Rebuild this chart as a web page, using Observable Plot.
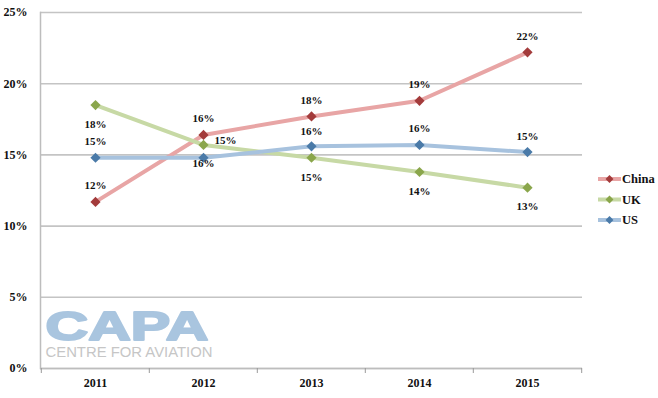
<!DOCTYPE html>
<html>
<head>
<meta charset="utf-8">
<script src="https://cdn.jsdelivr.net/npm/d3@7"></script>
<script src="https://cdn.jsdelivr.net/npm/@observablehq/plot@0.6"></script>
<style>
  html, body { margin: 0; padding: 0; background: #fff; }
  #wrap { position: relative; width: 658px; height: 398px; }
</style>
</head>
<body>
<div id="wrap"></div>
<script>
const years = ["2011", "2012", "2013", "2014", "2015"];
const seriesNames = ["China", "UK", "US"];
const chinaValues = [0.117, 0.164, 0.177, 0.188, 0.222];
const ukValues = [0.185, 0.157, 0.148, 0.138, 0.127];
const usValues = [0.148, 0.148, 0.156, 0.157, 0.152];
const chinaLabels = ["12%", "16%", "18%", "19%", "22%"];
const ukLabels = ["18%", "15%", "15%", "14%", "13%"];
const usLabels = ["15%", "16%", "16%", "16%", "15%"];
const yTicks = [0, 0.05, 0.10, 0.15, 0.20, 0.25];

const lineColors = {China: "#e8a5a5", UK: "#c7d9a5", US: "#a7c2de"};
const markColors = {China: "#a33b3b", UK: "#8aa64b", US: "#4a7aa8"};

const valuesBy = {China: chinaValues, UK: ukValues, US: usValues};
const labelsBy = {China: chinaLabels, UK: ukLabels, US: usLabels};
const data = seriesNames.flatMap(s => years.map((y, i) => ({series: s, year: y, value: valuesBy[s][i], label: labelsBy[s][i]})));

// label placement: offsets (px) relative to point
const labelOffsets = {
  China: [[0, -16], [0, -16], [0, -16], [0, -16], [0, -16]],
  UK: [[0, 19], [22, -4], [0, 20], [0, 19], [0, 19]],
  US: [[0, -16], [0, 6], [0, -15], [0, -16], [0, -16]]
};

const W = 658, H = 398, mL = 40, mR = 76, mT = 12, mB = 30;
const step = (W - mL - mR) / years.length;

const serif = "'Liberation Serif', 'DejaVu Serif', serif";

const labelMarks = data.map((d) => {
  const i = years.indexOf(d.year);
  const [dx, dy] = labelOffsets[d.series][i];
  return Plot.text([d], {x: "year", y: "value", text: "label", dx, dy, fill: "#111", fontSize: 11, fontWeight: "bold", fontFamily: serif});
});

const chart = Plot.plot({
  width: W, height: H,
  marginLeft: mL, marginRight: mR, marginTop: mT, marginBottom: mB,
  style: {fontFamily: serif, background: "#fff"},
  x: {type: "point", domain: years, padding: 0.5, label: null},
  y: {domain: [0, 0.25], label: null},
  marks: [
    Plot.gridY(yTicks, {stroke: "#c4c4c4", strokeOpacity: 1, strokeWidth: 1.6}),
    Plot.text(["CAPA"], {frameAnchor: "bottom-left", dx: 5, dy: -29, text: d => d, fill: "#a9c5df", stroke: "#a9c5df", strokeWidth: 2, fontSize: 40, fontWeight: 900, fontFamily: "'Liberation Sans', Arial, sans-serif", textAnchor: "start", lineAnchor: "bottom", className: "capa-big"}),
    Plot.text(["CENTRE FOR AVIATION"], {frameAnchor: "bottom-left", dx: 5, dy: -12, text: d => d, fill: "#c6c6c6", fontSize: 14, fontWeight: 300, fontFamily: "'Liberation Sans', Arial, sans-serif", textAnchor: "start", lineAnchor: "bottom", className: "capa-small"}),
    Plot.ruleY([0], {stroke: "#bdbdbd", strokeWidth: 1.5}),
    Plot.frame({anchor: "left", stroke: "#bdbdbd", strokeWidth: 1.5}),
    Plot.ruleX(years, {x: d => d, y1: 0, y2: 0, insetBottom: -5, dx: -step / 2, stroke: "#9a9a9a"}),
    Plot.ruleX([years[years.length - 1]], {x: d => d, y1: 0, y2: 0, insetBottom: -5, dx: step / 2, stroke: "#9a9a9a"}),
    Plot.line(data, {x: "year", y: "value", z: "series", stroke: d => lineColors[d.series], strokeWidth: 4, strokeLinecap: "butt"}),
    Plot.dot(data, {x: "year", y: "value", symbol: "diamond2", r: 4.6, fill: d => markColors[d.series], stroke: "none"}),
    ...labelMarks,
    Plot.axisY(yTicks, {tickFormat: d3.format(".0%"), tickSize: 0, tickPadding: 13, fontSize: 12, fontWeight: "bold", fill: "#111"}),
    Plot.axisX(years, {tickSize: 0, tickPadding: 10, fontSize: 12, fontWeight: "bold", fill: "#111"})
  ]
});

const wrap = document.getElementById("wrap");
wrap.appendChild(chart);

// stretch logo text to logo width
d3.select(chart).selectAll(".capa-big text").attr("textLength", 163).attr("lengthAdjust", "spacingAndGlyphs");
d3.select(chart).selectAll(".capa-small text").attr("textLength", 167).attr("lengthAdjust", "spacingAndGlyphs");

// legend
const svg = d3.select(chart);
const leg = svg.append("g").attr("font-family", serif).attr("font-size", 12.5).attr("font-weight", "bold").attr("text-anchor", "start");
seriesNames.forEach((s, i) => {
  const y = 179 + i * 20.5;
  const g = leg.append("g").attr("transform", `translate(598,${y})`);
  g.append("line").attr("x1", 0).attr("x2", 23).attr("stroke", lineColors[s]).attr("stroke-width", 4);
  g.append("path").attr("d", d3.symbol(d3.symbolDiamond2, 40)()).attr("transform", "translate(11.5,0)").attr("fill", markColors[s]);
  g.append("text").attr("x", 24).attr("dy", "0.35em").attr("text-anchor", "start").attr("fill", "#111").text(s);
});
</script>
</body>
</html>
